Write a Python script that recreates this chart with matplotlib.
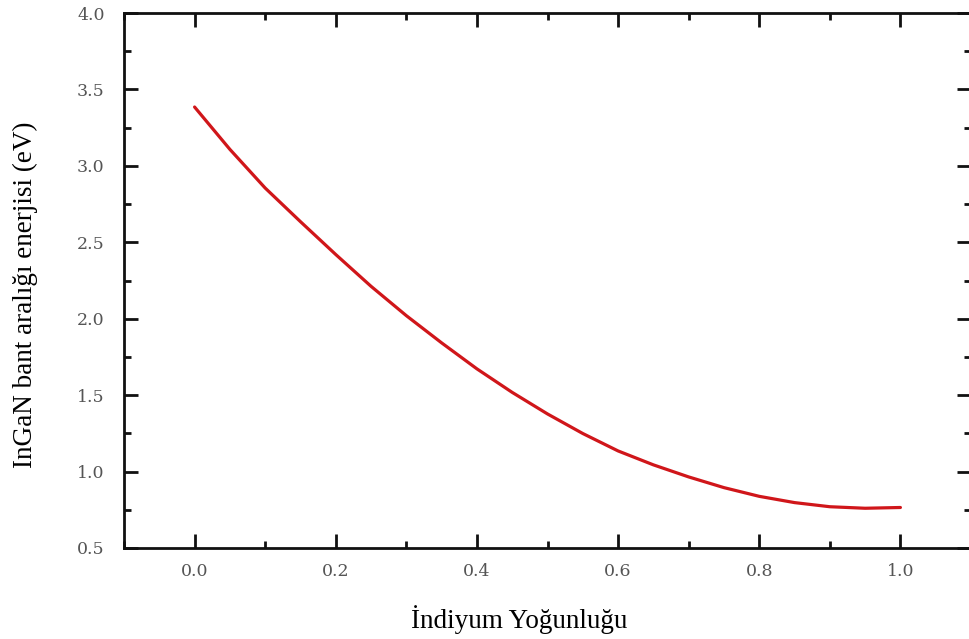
import matplotlib
matplotlib.use('Agg')
import matplotlib.pyplot as plt
from matplotlib.ticker import MultipleLocator

# indium fraction and InGaN band gap (eV)
indium = [0.0, 0.05, 0.1, 0.15, 0.2, 0.25, 0.3, 0.35, 0.4, 0.45, 0.5,
	0.55, 0.6, 0.65, 0.7, 0.75, 0.8, 0.85, 0.9, 0.95, 1.0]
gap_ev = [3.385, 3.108, 2.855, 2.635, 2.420, 2.212, 2.020, 1.842, 1.672, 1.518, 1.377,
	1.249, 1.135, 1.044, 0.965, 0.895, 0.838, 0.797, 0.770, 0.760, 0.765]

x_label = "İndiyum Yoğunluğu"
y_label = "InGaN bant aralığı enerjisi (eV)"

fig = plt.figure(figsize=(9.69, 6.39), dpi=100)
ax = fig.add_axes([124 / 969, 91 / 639, 847 / 969, 535 / 639])

ax.plot(indium, gap_ev, color='#d0161a', linewidth=2.3, solid_capstyle='round')

ax.set_xlim(-0.1, 1.1)
ax.set_ylim(0.5, 4.0)
ax.xaxis.set_major_locator(MultipleLocator(0.2))
ax.xaxis.set_minor_locator(MultipleLocator(0.1))
ax.yaxis.set_major_locator(MultipleLocator(0.5))
ax.yaxis.set_minor_locator(MultipleLocator(0.25))

for s in ax.spines.values():
	s.set_linewidth(2.0)
	s.set_color('#111111')

ax.tick_params(which='both', direction='in', top=True, right=True, width=2.0, color='#111111')
ax.tick_params(which='major', length=10, labelsize=12.5, labelcolor='#555555')
ax.tick_params(axis='x', which='major', pad=11)
ax.tick_params(axis='y', which='major', pad=14)
ax.tick_params(which='minor', length=5)
for lab in ax.get_xticklabels() + ax.get_yticklabels():
	lab.set_family('DejaVu Serif')

fig.text(519 / 969, 1 - 620 / 639, x_label, ha='center', va='center',
	family='Liberation Serif', fontsize=19.5)
fig.text(25 / 969, 1 - 295 / 639, y_label, ha='center', va='center', rotation=90,
	family='Liberation Serif', fontsize=19.5)

plt.savefig("out.png", dpi=100)
